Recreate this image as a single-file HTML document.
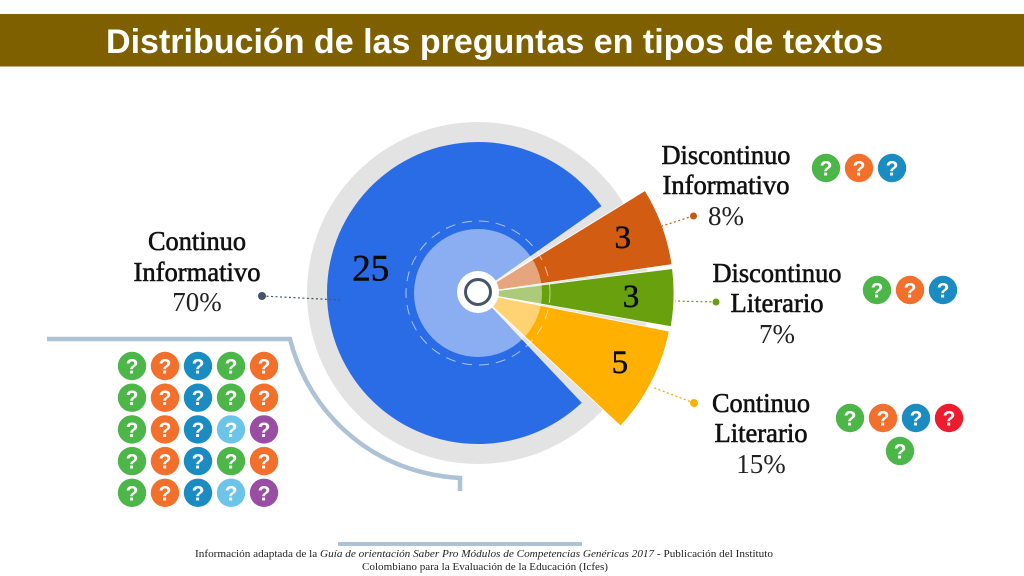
<!DOCTYPE html>
<html lang="es">
<head>
<meta charset="utf-8">
<title>Distribución de las preguntas en tipos de textos</title>
<style>
html,body{margin:0;padding:0;background:#fff;width:1024px;height:576px;overflow:hidden}
svg{display:block}
.lbl{font-family:"Liberation Serif",serif;font-size:27px;fill:#111;stroke:#111;stroke-width:.6px;text-anchor:middle}
.pct{font-family:"Liberation Serif",serif;font-size:27px;fill:#222;text-anchor:middle}
.val{font-family:"Liberation Serif",serif;fill:#0a0a0a;stroke:#0a0a0a;stroke-width:.5px;text-anchor:middle}
.foot{font-family:"Liberation Serif",serif;font-size:11px;fill:#222}
.q{font-family:"Liberation Sans",sans-serif;font-weight:bold;font-size:21px;fill:#fff;text-anchor:middle}
</style>
</head>
<body>
<svg id="chart" xmlns="http://www.w3.org/2000/svg" width="1024" height="576" viewBox="0 0 1024 576">
  <rect x="0" y="14" width="1024" height="52.5" fill="#7f6000"/>
  <text x="106" y="53" textLength="777" lengthAdjust="spacingAndGlyphs" font-family="'Liberation Sans',sans-serif" font-weight="bold" font-size="34" fill="#fff">Distribución de las preguntas en tipos de textos</text>

  <path d="M47 339 H290 C305 400 360 472 460 478 V491" fill="none" stroke="#adc2d4" stroke-width="4.5"/>
  <rect x="338" y="542" width="244" height="4" fill="#adc2d4"/>

  <circle cx="478" cy="293" r="171" fill="#e3e3e3"/>
  <g id="slices"></g>
  <circle cx="478" cy="293" r="64" fill="#fff" opacity=".45"/>
  <circle cx="478" cy="293" r="72" fill="none" stroke="#fff" stroke-width="1" stroke-dasharray="10 7" opacity=".6"/>
  <circle cx="478" cy="292" r="21" fill="#fff"/>
  <circle cx="478" cy="292" r="12.5" fill="#fff" stroke="#44546a" stroke-width="3"/>
  <g id="values"></g>

  <g fill="none" stroke-width="1.2" stroke-dasharray="2 2.5">
    <path d="M262 296 L340 300" stroke="#44546a"/>
    <path d="M693 216 L662 226" stroke="#c55a11"/>
    <path d="M716 302 L675 301" stroke="#6a9f10"/>
    <path d="M694 403 L652 387" stroke="#f5a800"/>
  </g>
  <circle cx="262" cy="296" r="4" fill="#44546a"/>
  <circle cx="693.500" cy="216" r="3.5" fill="#c55a11"/>
  <circle cx="716" cy="302" r="3.5" fill="#6a9f10"/>
  <circle cx="694" cy="403" r="4" fill="#ffb000"/>

  <g>
    <text class="lbl" x="197" y="250" textLength="98" lengthAdjust="spacingAndGlyphs">Continuo</text>
    <text class="lbl" x="197" y="281" textLength="127" lengthAdjust="spacingAndGlyphs">Informativo</text>
    <text class="pct" x="197" y="311">70%</text>
  </g>
  <g>
    <text class="lbl" x="726" y="164" textLength="129" lengthAdjust="spacingAndGlyphs">Discontinuo</text>
    <text class="lbl" x="726" y="194" textLength="127" lengthAdjust="spacingAndGlyphs">Informativo</text>
    <text class="pct" x="726" y="225">8%</text>
  </g>
  <g>
    <text class="lbl" x="777" y="282" textLength="129" lengthAdjust="spacingAndGlyphs">Discontinuo</text>
    <text class="lbl" x="777" y="312" textLength="93" lengthAdjust="spacingAndGlyphs">Literario</text>
    <text class="pct" x="777" y="343">7%</text>
  </g>
  <g>
    <text class="lbl" x="761" y="412" textLength="98" lengthAdjust="spacingAndGlyphs">Continuo</text>
    <text class="lbl" x="761" y="442" textLength="93" lengthAdjust="spacingAndGlyphs">Literario</text>
    <text class="pct" x="761" y="473">15%</text>
  </g>

  <g id="icons"></g>

  <text class="foot" x="195" y="557" textLength="578" lengthAdjust="spacingAndGlyphs">Información adaptada de la <tspan font-style="italic">Guía de orientación Saber Pro  Módulos de Competencias Genéricas 2017 -</tspan> Publicación del Instituto</text>
  <text class="foot" x="362" y="570" textLength="246" lengthAdjust="spacingAndGlyphs">Colombiano para la Evaluación de la Educación (Icfes)</text>
</svg>

<script>
// Chart data
const categories = ['continuo-informativo', 'discontinuo-informativo', 'discontinuo-literario', 'continuo-literario'];
const questionCounts = [25, 3, 3, 5];
const drawnShares = [78.3, 7.1, 5.1, 9.5];

// Axis / layout helpers
const NS = 'http://www.w3.org/2000/svg';
const CX = 478, CY = 293;
const START_DEG = 44.8;
const sliceColors = ['#2a6ce6', '#d25c12', '#68a00e', '#ffb000'];
const sliceRadius = [151, 196, 196, 195];
const labelRadius = [110, 155, 153, 158];
const labelTilt = [7, -1, 0, -1];
const labelSize = [37, 33, 33, 33];
const gapBefore = [1.8, 1.8, 0.6, 0.7];
const gapAfter = [1.8, 0.6, 0.7, 1.8];

function shareToDeg(share) {
  const total = drawnShares.reduce(function (a, b) { return a + b; }, 0);
  return share / total * 360;
}
function polar(r, deg) {
  const t = deg * Math.PI / 180;
  return [CX + r * Math.cos(t), CY + r * Math.sin(t)];
}

const slicesGroup = document.getElementById('slices');
const valuesGroup = document.getElementById('values');
let cursor = START_DEG;
drawnShares.forEach(function (share, i) {
  const sweep = shareToDeg(share);
  const a0 = cursor + gapBefore[i];
  const a1 = cursor + sweep - gapAfter[i];
  const p0 = polar(sliceRadius[i], a0);
  const p1 = polar(sliceRadius[i], a1);
  const large = a1 - a0 > 180 ? 1 : 0;
  const path = document.createElementNS(NS, 'path');
  path.setAttribute('d', 'M' + CX + ' ' + CY + ' L' + p0[0] + ' ' + p0[1] + ' A' + sliceRadius[i] + ' ' + sliceRadius[i] + ' 0 ' + large + ' 1 ' + p1[0] + ' ' + p1[1] + ' Z');
  path.setAttribute('fill', sliceColors[i]);
  if (i > 0) {
    path.setAttribute('stroke', '#fff');
    path.setAttribute('stroke-width', '0.8');
  }
  
  
  slicesGroup.appendChild(path);

  const mid = (a0 + a1) / 2 + labelTilt[i];
  const lp = polar(labelRadius[i], mid);
  const t = document.createElementNS(NS, 'text');
  t.setAttribute('class', 'val');
  t.setAttribute('x', lp[0]);
  t.setAttribute('y', lp[1] + labelSize[i] * 0.32);
  t.setAttribute('font-size', labelSize[i]);
  t.textContent = questionCounts[i];
  
  
  valuesGroup.appendChild(t);

  cursor += sweep;
});

// Question-mark icon clusters
const G = '#4cb648', O = '#f26f2c', B = '#1a8cc1', L = '#6cc5e8', P = '#9a4ea3', R = '#ed1c2e';
const iconGroups = [
  { name: 'continuo-informativo', x: 132, y: 366, dx: 33, dy: 31.7, rows: [[G,O,B,G,O],[G,O,B,G,O],[G,O,B,L,P],[G,O,B,G,O],[G,O,B,L,P]] },
  { name: 'discontinuo-informativo', x: 826, y: 168, dx: 33, dy: 33, rows: [[G,O,B]] },
  { name: 'discontinuo-literario', x: 877, y: 290, dx: 33, dy: 33, rows: [[G,O,B]] },
  { name: 'continuo-literario', x: 850, y: 418, dx: 33, dy: 33, rows: [[G,O,B,R],[null,G]] }
];
const iconsRoot = document.getElementById('icons');
iconGroups.forEach(function (grp) {
  grp.rows.forEach(function (row, r) {
    row.forEach(function (color, c) {
      if (!color) return;
      const x = grp.x + c * grp.dx + (r === 1 && grp.name === 'continuo-literario' ? 17 : 0);
      const y = grp.y + r * grp.dy;
      const g = document.createElementNS(NS, 'g');
      
      
      const circle = document.createElementNS(NS, 'circle');
      circle.setAttribute('cx', x);
      circle.setAttribute('cy', y);
      circle.setAttribute('r', 14.2);
      circle.setAttribute('fill', color);
      const q = document.createElementNS(NS, 'text');
      q.setAttribute('class', 'q');
      q.setAttribute('x', x);
      q.setAttribute('y', y + 7.5);
      q.textContent = '?';
      g.appendChild(circle);
      g.appendChild(q);
      iconsRoot.appendChild(g);
    });
  });
});
</script>
</body>
</html>
